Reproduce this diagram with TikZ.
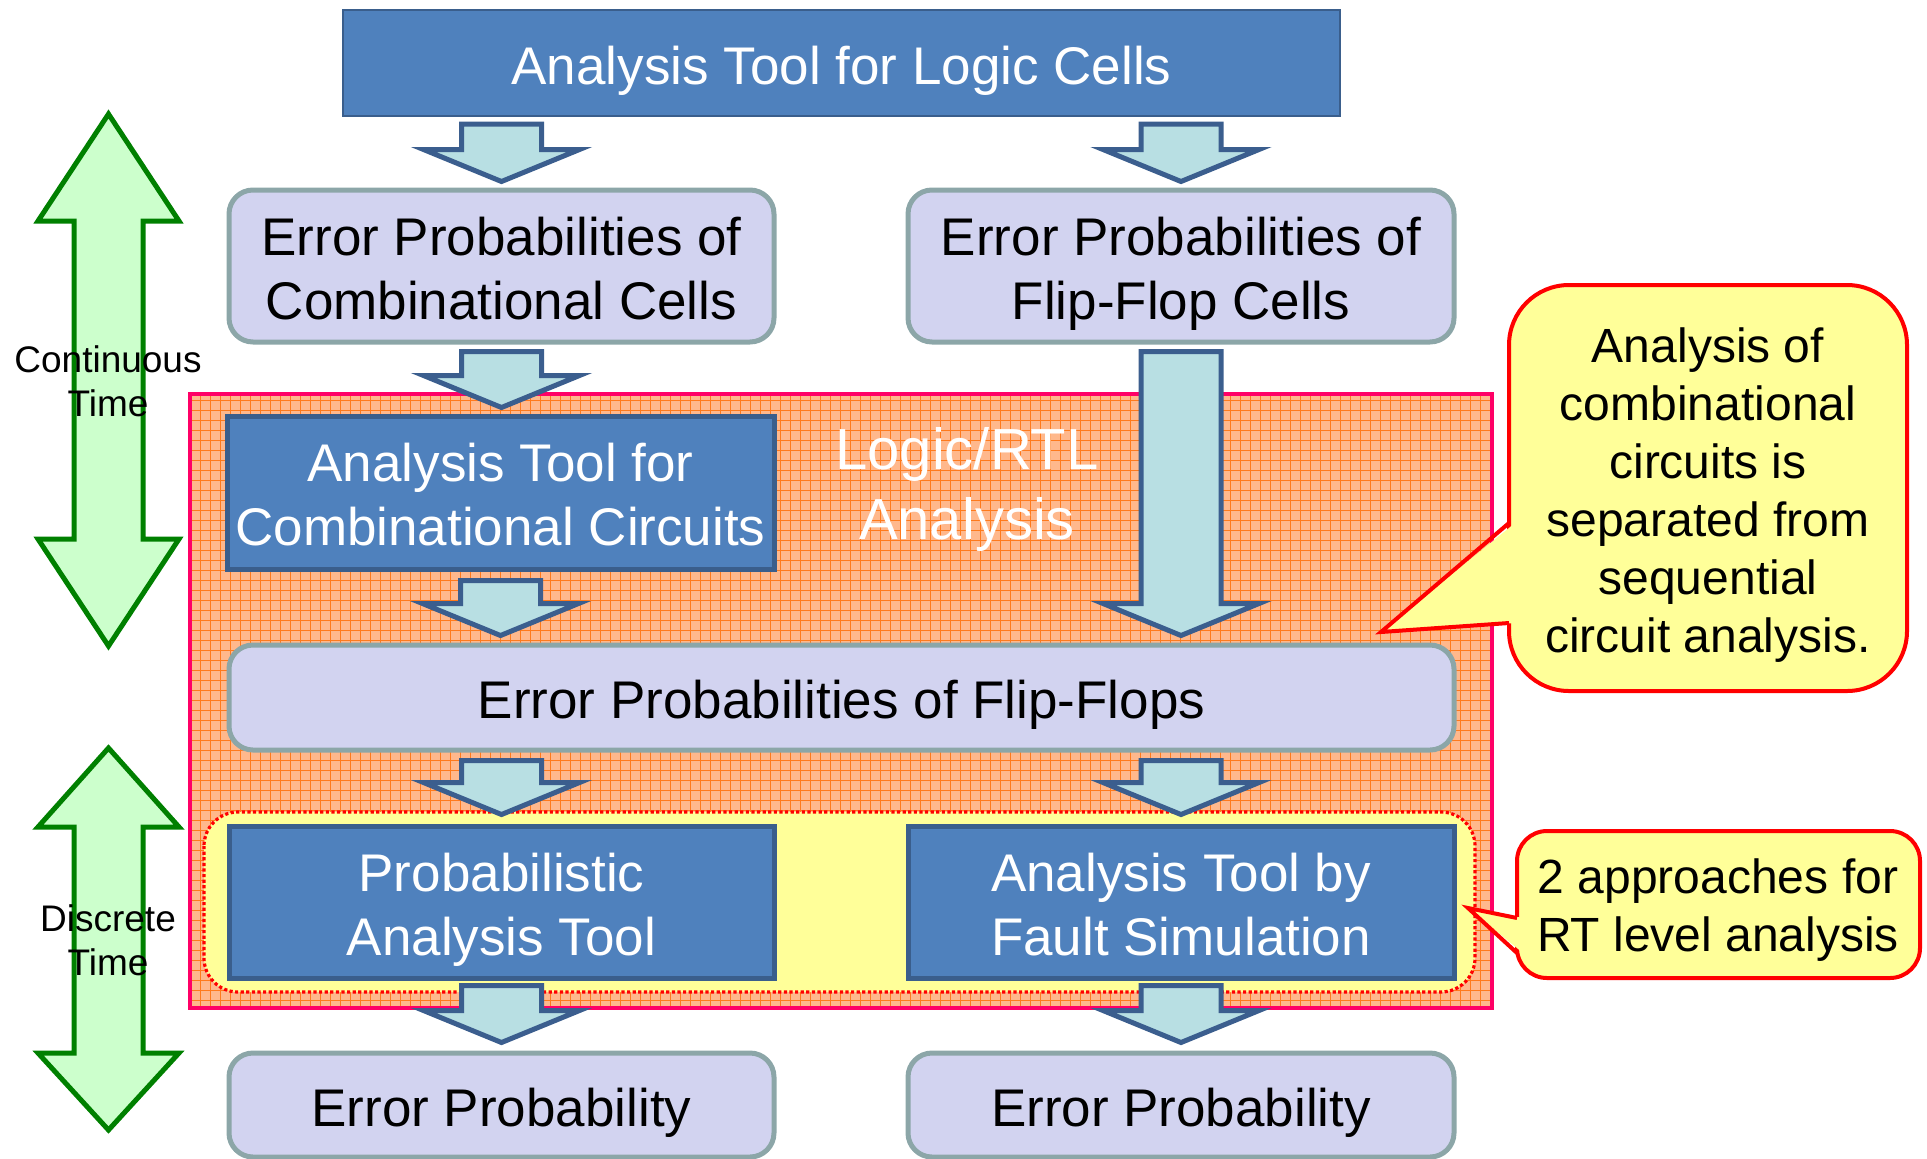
\documentclass[tikz,border=0pt]{standalone}
\usepackage{fontspec}
\setmainfont{Liberation Sans}
\usetikzlibrary{calc}

\definecolor{boxblue}{HTML}{4F81BD}
\definecolor{boxblueedge}{HTML}{3A5E8C}
\definecolor{lavender}{HTML}{D2D3F0}
\definecolor{lavenderedge}{HTML}{8CA6A8}
\definecolor{arrowfill}{HTML}{B8DFE3}
\definecolor{arrowedge}{HTML}{3B5E8E}
\definecolor{zonefill}{HTML}{FFB88C}
\definecolor{zonegrid}{HTML}{FF7A1C}
\definecolor{zoneedge}{HTML}{FF0066}
\definecolor{noteyellow}{HTML}{FFFF99}
\definecolor{notered}{HTML}{FF0000}
\definecolor{timefill}{HTML}{CCFFCC}
\definecolor{timeedge}{HTML}{008000}

% fixed line height and depth so every box centres its text the same way
\newcommand\tstr{\rule{0pt}{27pt}}
\newcommand\bstr{\rule[-6pt]{0pt}{6pt}}

\tikzset{
  bigtext/.style={font=\fontsize{26.5pt}{32pt}\selectfont, align=center},
  toolbox/.style={bigtext, draw=boxblueedge, fill=boxblue, line width=2.5pt,
    text=white, inner sep=0pt},
  resultbox/.style={bigtext, draw=lavenderedge, fill=lavender, line width=2.5pt,
    rounded corners=12pt, inner sep=0pt},
  flowarr/.style={draw=arrowedge, fill=arrowfill, line width=2.5pt, line join=miter},
  timearr/.style={draw=timeedge, fill=timefill, line width=2.5pt, line join=miter},
  notetext/.style={font=\fontsize{24pt}{29pt}\selectfont, align=center},
  notebody/.style={draw=notered, fill=noteyellow, line width=2pt},
  sidetext/.style={font=\fontsize{18.5pt}{22pt}\selectfont, align=center},
}

% block arrow pointing down from #1 to #2 (same x)
\newcommand\flowarrow[2]{%
  \path[flowarr] let \p1=(#1), \p2=(#2) in
    (\x1-20pt,\y1) -- (\x1+20pt,\y1) -- (\x1+20pt,\y2+16pt) -- (\x1+39pt,\y2+16pt)
    -- (\x1,\y2) -- (\x1-39pt,\y2+16pt) -- (\x1-20pt,\y2+16pt) -- cycle;}

\begin{document}
\begin{tikzpicture}[x=0.5pt,y=-0.5pt]
\useasboundingbox (0,0) rectangle (1927,1158);

% Logic/RTL analysis zone
\fill[zonefill] (190,394) rectangle (1492,1008);
\draw[zonegrid, line width=0.5pt, step=5pt] (190,394) grid (1492,1008);
\draw[zoneedge, line width=2pt] (190,394) rectangle (1492,1008);
\node[font=\fontsize{29pt}{35pt}\selectfont, align=center, text=white] (zone) at (967,489) {Logic/RTL\\Analysis};

% RT level approaches group
\draw[notered, line width=1.6pt, dash pattern=on 1.6pt off 1.2pt, fill=noteyellow,
  rounded corners=17pt] (204,812) rectangle (1475,992);

% boxes
\node[toolbox, line width=1pt, minimum width=498.5pt, minimum height=53pt] (top) at (841.5,63) {\tstr Analysis Tool for Logic Cells\bstr};
\node[resultbox, minimum width=272.5pt, minimum height=76pt] (cc) at (501.5,266) {\tstr Error Probabilities of\\Combinational Cells\bstr};
\node[resultbox, minimum width=273pt, minimum height=76pt] (ff) at (1181,266) {\tstr Error Probabilities of\\Flip-Flop Cells\bstr};
\node[toolbox, minimum width=273.5pt, minimum height=76.5pt] (atcc) at (500.5,492.5) {\tstr Analysis Tool for\\Combinational Circuits\bstr};
\node[resultbox, minimum width=612.5pt, minimum height=52.5pt] (epff) at (841.5,697.5) {\tstr Error Probabilities of Flip-Flops\bstr};
\node[toolbox, minimum width=272.5pt, minimum height=76pt] (pat) at (501.5,902) {\tstr Probabilistic\\Analysis Tool\bstr};
\node[toolbox, minimum width=273pt, minimum height=76pt] (atfs) at (1181,902) {\tstr Analysis Tool by\\Fault Simulation\bstr};
\node[resultbox, minimum width=272.5pt, minimum height=52pt] (ep1) at (501.5,1105) {\tstr Error Probability\bstr};
\node[resultbox, minimum width=273pt, minimum height=52pt] (ep2) at (1181,1105) {\tstr Error Probability\bstr};

% flow arrows
\coordinate (a1s) at ($(top.south -| cc.north)+(0,7)$);
\coordinate (a1e) at ($(cc.north)+(0,-6)$);
\coordinate (a2s) at ($(top.south -| ff.north)+(0,7)$);
\coordinate (a2e) at ($(ff.north)+(0,-6)$);
\coordinate (a3s) at ($(cc.south)+(0,7)$);
\coordinate (a3e) at ($(atcc.north)+(0,-6)$);
\coordinate (a4s) at ($(ff.south)+(0,7)$);
\coordinate (a4e) at ($(epff.north -| ff.north)+(0,-7)$);
\coordinate (a5s) at ($(atcc.south)+(0,9)$);
\coordinate (a5e) at ($(epff.north -| atcc.north)+(0,-7)$);
\coordinate (a6s) at ($(epff.south -| pat.north)+(0,8)$);
\coordinate (a6e) at ($(pat.north)+(0,-9)$);
\coordinate (a7s) at ($(epff.south -| atfs.north)+(0,8)$);
\coordinate (a7e) at ($(atfs.north)+(0,-9)$);
\coordinate (a8s) at ($(pat.south)+(0,5)$);
\coordinate (a8e) at ($(ep1.north)+(0,-8)$);
\coordinate (a9s) at ($(atfs.south)+(0,5)$);
\coordinate (a9e) at ($(ep2.north)+(0,-8)$);
\flowarrow{a1s}{a1e}
\flowarrow{a2s}{a2e}
\flowarrow{a3s}{a3e}
\flowarrow{a4s}{a4e}
\flowarrow{a5s}{a5e}
\flowarrow{a6s}{a6e}
\flowarrow{a7s}{a7e}
\flowarrow{a8s}{a8e}
\flowarrow{a9s}{a9e}

% time scale arrows
\draw[timearr] (108.5,114) -- (179,221) -- (143,221) -- (143,539) -- (179,539)
  -- (108.5,646) -- (38,539) -- (74,539) -- (74,221) -- (38,221) -- cycle;
\node[sidetext] (cont) at (108,381) {Continuous\\Time};
\draw[timearr] (108.5,748) -- (179,827) -- (143,827) -- (143,1053) -- (179,1053)
  -- (108.5,1130) -- (38,1053) -- (74,1053) -- (74,827) -- (38,827) -- cycle;
\node[sidetext] (disc) at (108,940) {Discrete\\Time};

% callout on combinational/sequential separation
\path[notebody, rounded corners=30pt] (1509,285) rectangle (1907,691);
\fill[noteyellow] (1515,523) -- (1381,632) -- (1515,623) -- cycle;
\draw[notered, line width=2pt] (1509,523) -- (1381,632) -- (1509,623);
\node[notetext] (note1) at (1708,495) {Analysis of\\combinational\\circuits is\\separated from\\sequential\\circuit analysis.};

% callout on RT level approaches
\path[notebody, rounded corners=15pt] (1517,831) rectangle (1920,978);
\fill[noteyellow] (1523,918) -- (1468,908) -- (1523,953) -- cycle;
\draw[notered, line width=2pt] (1517,918) -- (1468,908) -- (1517,953);
\node[notetext] (note2) at (1718,910) {2 approaches for\\RT level analysis};

\end{tikzpicture}
\end{document}
